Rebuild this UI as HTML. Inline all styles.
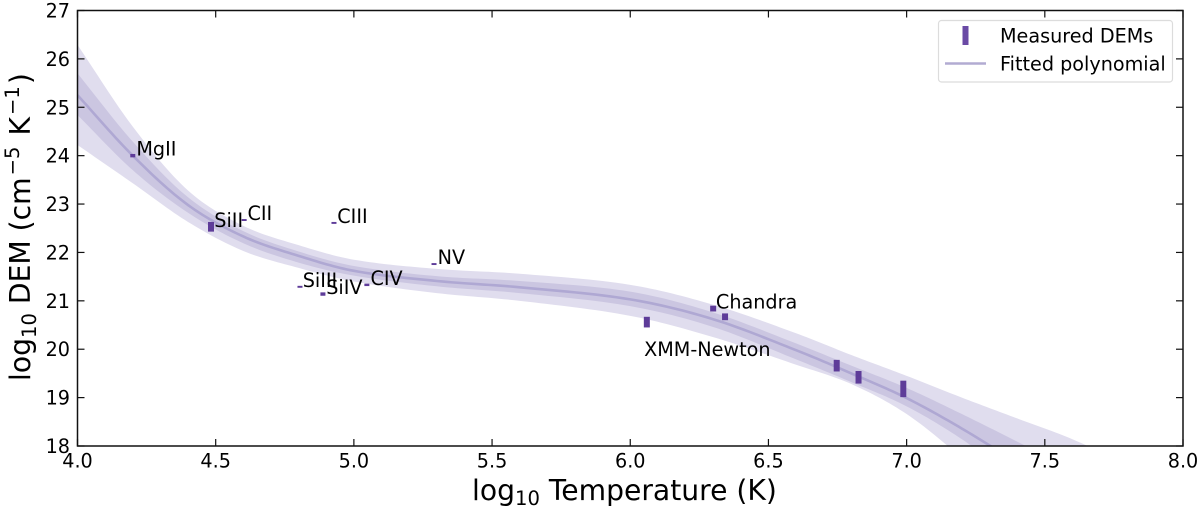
<!DOCTYPE html>
<html>
<head>
<meta charset="utf-8">
<style>
html,body{margin:0;padding:0;background:#fff;width:1200px;height:511px;overflow:hidden}
svg{display:block}
text{font-family:"DejaVu Sans","Liberation Sans",sans-serif;fill:#000}
</style>
</head>
<body>
<svg id="chart" xmlns="http://www.w3.org/2000/svg" width="1200" height="511" viewBox="0 0 1200 511">
<defs><clipPath id="plot-clip"><rect x="77.5" y="10.5" width="1105.5" height="435.5"/></clipPath></defs>
<g id="bands" clip-path="url(#plot-clip)"></g>
<g id="marks"></g>
<g id="labels"></g>
<rect x="77.5" y="10.5" width="1105.5" height="435.5" fill="none" stroke="#111" stroke-width="1.5"/>
<g id="ticks"></g>
<text x="472" y="500" font-size="28.2">log<tspan font-size="19.6" dy="5">10</tspan><tspan dy="-5"> Temperature (K)</tspan></text>
<text transform="translate(30,381) rotate(-90)" font-size="28.2">log<tspan font-size="19.6" dy="6">10</tspan><tspan dy="-6"> DEM (cm</tspan><tspan font-size="19.6" dy="-11" dx="2">−5</tspan><tspan dy="11" dx="2"> K</tspan><tspan font-size="19.6" dy="-11" dx="2">−1</tspan><tspan dy="11" dx="2">)</tspan></text>
<g>
<rect x="938.5" y="20.5" width="234" height="61.5" rx="3" fill="#fff" fill-opacity="0.85" stroke="#dcdcdc" stroke-width="1.2"/>
<rect x="962.5" y="26" width="6" height="19" fill="#6a4aa5"/>
<text x="1000" y="42.5" font-size="19.2">Measured DEMs</text>
<line x1="945" y1="63.5" x2="986" y2="63.5" stroke="#b2abd2" stroke-width="2.5"/>
<text x="1000" y="70.5" font-size="19.2">Fitted polynomial</text>
</g>
</svg>
<script>
const xTicks = ["4.0","4.5","5.0","5.5","6.0","6.5","7.0","7.5","8.0"];
const yTicks = ["18","19","20","21","22","23","24","25","26","27"];
const fitT = [4.0,4.2,4.4,4.6,4.8,5.0,5.3,5.6,6.0,6.3,6.6,6.8,7.0,7.2,7.4,7.6,7.8];
const fitCenter = [25.25,24.0,22.98,22.33,21.93,21.62,21.41,21.28,21.03,20.62,19.98,19.5,18.99,18.36,17.65,16.9,16.1];
const fitOuterUpper = [26.29,24.6,23.28,22.55,22.15,21.85,21.66,21.56,21.33,20.92,20.33,19.88,19.45,19.0,18.57,18.14,17.6];
const fitInnerUpper = [25.7,24.29,23.14,22.44,22.02,21.72,21.51,21.41,21.19,20.76,20.12,19.66,19.2,18.66,18.09,17.5,16.9];
const fitInnerLower = [24.84,23.7,22.82,22.19,21.79,21.52,21.3,21.16,20.89,20.46,19.79,19.32,18.82,18.14,17.3,16.5,15.7];
const fitOuterLower = [24.22,23.43,22.63,22.03,21.68,21.4,21.16,21.0,20.69,20.25,19.68,19.28,18.66,17.75,16.7,15.7,14.8];
const measT = [4.2,4.483,4.603,4.928,5.29,4.805,4.888,5.047,6.06,6.30,6.343,6.747,6.826,6.988];
const measDem = [24.0,22.53,22.67,22.61,21.76,21.29,21.14,21.33,20.56,20.84,20.67,19.66,19.42,19.18];
const measErr = [0.035,0.1,0.02,0.02,0.02,0.02,0.035,0.025,0.11,0.06,0.07,0.12,0.13,0.17];
const labelNames = ["MgII","SiII","CII","CIII","NV","SiIII","SiIV","CIV","Chandra","XMM-Newton"];
const labelT = [4.213,4.495,4.615,4.94,5.303,4.815,4.9,5.06,6.31,6.05];
const labelDem = [24.0,22.53,22.67,22.61,21.76,21.29,21.14,21.33,20.84,19.86];

const NS = "http://www.w3.org/2000/svg";
const PLOT_BOTTOM = 446;
const xScale = function (t) { return 77.5 + (t - 4) * 276.375; };
const yScale = function (d) { return PLOT_BOTTOM - (d - 18) * 48.39; };

/* Non-uniform Catmull-Rom through the knots, sampled into a dense pixel polyline. */
function sampleCurve(ts, vals) {
  const out = [];
  const n = ts.length;
  const slope = function (i) {
    if (i === 0) return (vals[1] - vals[0]) / (ts[1] - ts[0]);
    if (i === n - 1) return (vals[n - 1] - vals[n - 2]) / (ts[n - 1] - ts[n - 2]);
    return (vals[i + 1] - vals[i - 1]) / (ts[i + 1] - ts[i - 1]);
  };
  for (let i = 0; i < n - 1; i++) {
    const h = ts[i + 1] - ts[i], m0 = slope(i), m1 = slope(i + 1);
    for (let k = 0; k < 16; k++) {
      const u = k / 16, u2 = u * u, u3 = u2 * u;
      const v = (2 * u3 - 3 * u2 + 1) * vals[i] + (u3 - 2 * u2 + u) * h * m0 + (-2 * u3 + 3 * u2) * vals[i + 1] + (u3 - u2) * h * m1;
      out.push([xScale(ts[i] + u * h), yScale(v)]);
    }
  }
  out.push([xScale(ts[n - 1]), yScale(vals[n - 1])]);
  return out;
}
function fmt(pts) {
  return pts.map(function (p) { return p[0].toFixed(2) + " " + p[1].toFixed(2); }).join("L");
}
function bandPath(up, low) {
  const clampY = function (p) { return [p[0], Math.min(p[1], PLOT_BOTTOM + 1)]; };
  const a = sampleCurve(fitT, up).map(clampY);
  const b = sampleCurve(fitT, low).map(clampY).reverse();
  return "M" + fmt(a) + "L" + fmt(b) + "Z";
}

const bands = document.getElementById("bands");
const outerBand = document.createElementNS(NS, "path");


outerBand.setAttribute("d", bandPath(fitOuterUpper, fitOuterLower));
outerBand.setAttribute("fill", "#e0ddee");
bands.appendChild(outerBand);

const innerBand = document.createElementNS(NS, "path");


innerBand.setAttribute("d", bandPath(fitInnerUpper, fitInnerLower));
innerBand.setAttribute("fill", "#cbc6e1");
bands.appendChild(innerBand);

const fitLine = document.createElementNS(NS, "path");


fitLine.setAttribute("d", "M" + fmt(sampleCurve(fitT, fitCenter).filter(function (p) { return p[1] <= PLOT_BOTTOM + 3; })));
fitLine.setAttribute("fill", "none");
fitLine.setAttribute("stroke", "#afa8d3");
fitLine.setAttribute("stroke-width", "2.6");
bands.appendChild(fitLine);

const marks = document.getElementById("marks");
measT.forEach(function (t, i) {
  const m = document.createElementNS(NS, "line");
  
  
  const wide = i >= 8 || i === 1;
  m.setAttribute("x1", xScale(t));
  m.setAttribute("x2", xScale(t));
  m.setAttribute("y1", yScale(measDem[i] + measErr[i]));
  m.setAttribute("y2", yScale(measDem[i] - measErr[i]));
  m.setAttribute("stroke", "#5e3c99");
  m.setAttribute("stroke-width", wide ? "6" : "5");
  marks.appendChild(m);
});

const labels = document.getElementById("labels");
labelNames.forEach(function (name, i) {
  const tx = document.createElementNS(NS, "text");
  
  
  tx.setAttribute("x", xScale(labelT[i]));
  tx.setAttribute("y", yScale(labelDem[i]));
  tx.setAttribute("font-size", "19.2");
  tx.textContent = name;
  labels.appendChild(tx);
});

const ticks = document.getElementById("ticks");
function tickLine(x1, y1, x2, y2) {
  const l = document.createElementNS(NS, "line");
  
  
  l.setAttribute("x1", x1);
  l.setAttribute("y1", y1);
  l.setAttribute("x2", x2);
  l.setAttribute("y2", y2);
  l.setAttribute("stroke", "#111");
  l.setAttribute("stroke-width", "1.2");
  ticks.appendChild(l);
}
xTicks.forEach(function (lab) {
  const x = xScale(parseFloat(lab));
  tickLine(x, 446, x, 439);
  tickLine(x, 10.5, x, 17.5);
  const tx = document.createElementNS(NS, "text");
  
  
  tx.setAttribute("x", x);
  tx.setAttribute("y", 467.5);
  tx.setAttribute("font-size", "19.2");
  tx.setAttribute("text-anchor", "middle");
  tx.textContent = lab;
  ticks.appendChild(tx);
});
yTicks.forEach(function (lab) {
  const y = yScale(parseFloat(lab));
  tickLine(77.5, y, 84.5, y);
  tickLine(1183, y, 1176, y);
  const tx = document.createElementNS(NS, "text");
  
  
  tx.setAttribute("x", 70);
  tx.setAttribute("y", y + 7);
  tx.setAttribute("font-size", "19.2");
  tx.setAttribute("text-anchor", "end");
  tx.textContent = lab;
  ticks.appendChild(tx);
});
</script>
</body>
</html>
